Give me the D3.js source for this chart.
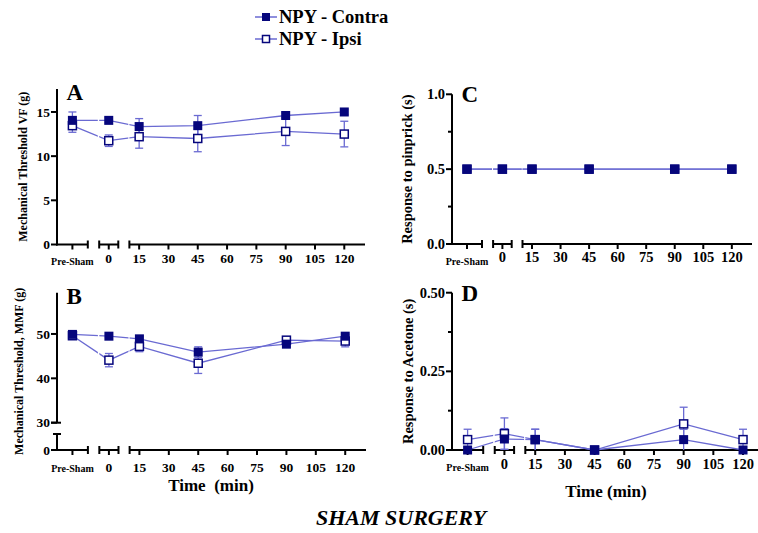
<!DOCTYPE html>
<html lang="en">
<head>
<meta charset="UTF-8">
<title>Sham surgery</title>
<script src="https://d3js.org/d3.v7.min.js"></script>
<style>
  body { margin: 0; background: #fff; }
  svg { font-family: "Liberation Serif", "Times New Roman", serif; font-weight: bold; }
</style>
</head>
<body>
<div id="chart"></div>
<script>
// time points; Pre-Sham is placed on its own axis segment (coded as -60)
var timePoints = [-60, 0, 15, 45, 90, 120];
var xTicks = [-60, 0, 15, 30, 45, 60, 75, 90, 105, 120];
var seriesNames = ["NPY - Contra", "NPY - Ipsi"];

// A: von Frey
var vfContra    = [14.05, 14.05, 13.35, 13.45, 14.6, 15.0];
var vfContraErr = [0.95, 0.3, 0.9, 1.15, 0.3, 0.3];
var vfIpsi      = [13.45, 11.75, 12.2, 12.0, 12.8, 12.5];
var vfIpsiErr   = [0.75, 0.65, 1.3, 1.5, 1.6, 1.45];
// B: MMF
var mmfContra    = [49.9, 49.5, 48.9, 45.9, 47.7, 49.5];
var mmfContraErr = [0.3, 0.3, 0.6, 1.2, 0.6, 0.4];
var mmfIpsi      = [49.6, 44.1, 47.2, 43.4, 48.6, 48.4];
var mmfIpsiErr   = [0.4, 1.5, 1.2, 2.3, 0.6, 1.3];
// C: pinprick
var pinContra    = [0.5, 0.5, 0.5, 0.5, 0.5, 0.5];
var pinContraErr = [0, 0, 0, 0, 0, 0];
var pinIpsi      = [0.5, 0.5, 0.5, 0.5, 0.5, 0.5];
var pinIpsiErr   = [0, 0, 0, 0, 0, 0];
// D: acetone
var aceContra    = [0, 0.035, 0.033, 0, 0.033, 0];
var aceContraErr = [0, 0.033, 0.033, 0, 0.033, 0];
var aceIpsi      = [0.033, 0.052, 0.033, 0, 0.083, 0.033];
var aceIpsiErr   = [0.033, 0.05, 0.033, 0, 0.053, 0.033];

var lineColor = "#6a6ad2";
var navy = "#06067c";

var svg = d3.select("#chart").append("svg")
    .attr("width", 758)
    .attr("height", 533);

// x segments as fractions of axis width
var segDomain = [-65, -55, -5, 5, 10, 130.6];
var segFrac   = [0, 0.1, 0.137, 0.199, 0.235, 1];

var panels = [
  {id: "A", left: 57, top: 89, bottom: 244.5, width: 308, yMax: 17.6, yTicks: [0, 5, 10, 15], minor: [],
   fmt: d3.format("d"), font: 13.5, title: "Mechanical Threshold VF (g)", titleSize: 12, titleX: 23,
   contra: vfContra, contraErr: vfContraErr, ipsi: vfIpsi, ipsiErr: vfIpsiErr, tickBase: 263, preBase: 265},
  {id: "B", left: 57, top: 292.7, bottom: 450, width: 309, yMax: 59.3, yTicks: [0, 30, 40, 50], minor: [],
   fmt: d3.format("d"), font: 13.5, title: "Mechanical Threshold, MMF (g)", titleSize: 12, titleX: 18.5,
   broken: true, contra: mmfContra, contraErr: mmfContraErr, ipsi: mmfIpsi, ipsiErr: mmfIpsiErr,
   tickBase: 472, preBase: 472, xTitle: "Time\u00a0\u00a0(min)", xTitleBase: 491},
  {id: "C", left: 452, top: 94.3, bottom: 244, width: 300, yMax: 1, yTicks: [0, 0.5, 1], minor: [0.25, 0.75],
   fmt: d3.format(".1f"), font: 14.5, title: "Response to pinprick (s)", titleSize: 14.5, titleX: 407,
   contra: pinContra, contraErr: pinContraErr, ipsi: pinIpsi, ipsiErr: pinIpsiErr, tickBase: 262, preBase: 265},
  {id: "D", left: 452, top: 292.7, bottom: 450, width: 312, yMax: 0.5, yTicks: [0, 0.25, 0.5], minor: [0.125, 0.375],
   fmt: d3.format(".2f"), font: 14.5, title: "Response to Acetone (s)", titleSize: 14.5, titleX: 408,
   contra: aceContra, contraErr: aceContraErr, ipsi: aceIpsi, ipsiErr: aceIpsiErr,
   tickBase: 469, preBase: 471, xTitle: "Time (min)", xTitleBase: 497}
];

panels.forEach(drawPanel);

function drawPanel(p) {
  var g = svg.append("g");
  var x = d3.scaleLinear()
      .domain(segDomain)
      .range(segFrac.map(function(f) { return p.left + f * p.width; }));

  var y;
  if (p.broken) {
    // lower stub 0..4, gap, then 30..top
    y = d3.scaleLinear().domain([0, 4, 30, p.yMax])
        .range([p.bottom, p.bottom - 16, p.bottom - 27.3, p.top]);
  } else {
    y = d3.scaleLinear().domain([0, p.yMax]).range([p.bottom, p.top]);
  }

  // ---- y axis
  var ya = g.append("g").attr("stroke", "#000").attr("stroke-width", 2);
  if (p.broken) {
    ya.append("line").attr("x1", p.left).attr("x2", p.left).attr("y1", y(0) + 1).attr("y2", y(4));
    ya.append("line").attr("x1", p.left - 4).attr("x2", p.left + 4).attr("y1", y(4)).attr("y2", y(4));
    ya.append("line").attr("x1", p.left).attr("x2", p.left).attr("y1", y(30)).attr("y2", p.top);
    ya.append("line").attr("x1", p.left - 6).attr("x2", p.left + 4).attr("y1", y(30)).attr("y2", y(30));
  } else {
    ya.append("line").attr("x1", p.left).attr("x2", p.left).attr("y1", p.bottom + 1).attr("y2", p.top);
  }
  p.yTicks.forEach(function(t) {
    ya.append("line").attr("x1", p.left - 6).attr("x2", p.left).attr("y1", y(t)).attr("y2", y(t));
    g.append("text")
      .attr("x", p.left - 7).attr("y", y(t))
      .attr("dy", "0.35em").attr("text-anchor", "end")
      .style("font-size", p.font + "px")
      .text(p.fmt(t));
  });
  p.minor.forEach(function(t) {
    ya.append("line").attr("x1", p.left - 4).attr("x2", p.left).attr("y1", y(t)).attr("y2", y(t));
  });

  // ---- x axis in three segments
  var xa = g.append("g").attr("stroke", "#000").attr("stroke-width", 2);
  var segs = [[p.left, x(-55)], [x(-5), x(5)], [x(10), x(130.6)]];
  segs.forEach(function(s, i) {
    xa.append("line").attr("x1", s[0] - (i === 0 ? 1 : 0)).attr("x2", s[1]).attr("y1", p.bottom).attr("y2", p.bottom);
    if (i > 0) xa.append("line").attr("x1", s[0]).attr("x2", s[0]).attr("y1", p.bottom - 4).attr("y2", p.bottom + 4);
    if (i < 2) xa.append("line").attr("x1", s[1]).attr("x2", s[1]).attr("y1", p.bottom - 4).attr("y2", p.bottom + 4);
  });
  xTicks.forEach(function(t) {
    xa.append("line").attr("x1", x(t)).attr("x2", x(t)).attr("y1", p.bottom).attr("y2", p.bottom + 5);
    if (t === -60) {
      g.append("text").attr("x", x(t)).attr("y", p.preBase)
        .attr("text-anchor", "middle").style("font-size", "10px").text("Pre-Sham");
    } else {
      g.append("text").attr("x", x(t)).attr("y", p.tickBase)
        .attr("text-anchor", "middle").style("font-size", p.font + "px").text(t);
    }
  });

  // ---- titles
  g.append("text")
    .attr("transform", "translate(" + p.titleX + "," + ((p.top + p.bottom) / 2) + ") rotate(-90)")
    .attr("text-anchor", "middle").attr("dy", "0.35em")
    .style("font-size", p.titleSize + "px")
    .text(p.title);
  g.append("text")
    .attr("x", p.left + 9.5).attr("y", p.top + (p.id === "A" || p.id === "B" ? 11 : 8))
    .style("font-size", "23px").text(p.id);
  if (p.xTitle) {
    g.append("text").attr("x", p.left + 154).attr("y", p.xTitleBase)
      .attr("text-anchor", "middle").style("font-size", "17px").text(p.xTitle);
  }

  // ---- clipped lines (broken across axis gaps)
  var clipId = "clip" + p.id;
  var cp = svg.append("clipPath").attr("id", clipId);
  segs.forEach(function(s) {
    cp.append("rect").attr("x", s[0]).attr("width", s[1] - s[0] + 10)
      .attr("y", p.top - 20).attr("height", p.bottom - p.top + 40);
  });

  var series = [
    {vals: p.ipsi, errs: p.ipsiErr, filled: false},
    {vals: p.contra, errs: p.contraErr, filled: true}
  ];
  var line = d3.line().x(function(d) { return x(d[0]); }).y(function(d) { return y(d[1]); });

  series.forEach(function(s) {
    var pts = timePoints.map(function(t, i) { return [t, s.vals[i], s.errs[i]]; });
    g.append("path").datum(pts)
      .attr("clip-path", "url(#" + clipId + ")")
      .attr("d", line).attr("fill", "none")
      .attr("stroke", lineColor).attr("stroke-width", 1.3);
    // error bars
    var eb = g.append("g").attr("stroke", lineColor).attr("stroke-width", 1.3);
    pts.forEach(function(d) {
      if (!d[2]) return;
      var lo = Math.max(0, d[1] - d[2]), hi = d[1] + d[2];
      var cx = x(d[0]);
      eb.append("line").attr("x1", cx).attr("x2", cx).attr("y1", y(lo)).attr("y2", y(hi));
      eb.append("line").attr("x1", cx - 4).attr("x2", cx + 4).attr("y1", y(hi)).attr("y2", y(hi));
      if (lo > 0) eb.append("line").attr("x1", cx - 4).attr("x2", cx + 4).attr("y1", y(lo)).attr("y2", y(lo));
    });
  });
  series.forEach(function(s) {
    timePoints.forEach(function(t, i) {
      var cx = x(t), cy = y(s.vals[i]);
      if (s.filled) {
        g.append("rect").attr("x", cx - 4.5).attr("y", cy - 4.5).attr("width", 9).attr("height", 9)
          .attr("fill", navy);
      } else {
        g.append("rect").attr("x", cx - 4).attr("y", cy - 4).attr("width", 8).attr("height", 8)
          .attr("fill", "#fff").attr("stroke", navy).attr("stroke-width", 1.5);
      }
    });
  });
}

// ---- legend
var legend = svg.append("g");
seriesNames.forEach(function(name, i) {
  var ly = 17 + i * 22;
  legend.append("line").attr("x1", 255).attr("x2", 277).attr("y1", ly).attr("y2", ly)
    .attr("stroke", lineColor).attr("stroke-width", 1.5);
  if (i === 0) {
    legend.append("rect").attr("x", 262).attr("y", ly - 4).attr("width", 8).attr("height", 8).attr("fill", navy);
  } else {
    legend.append("rect").attr("x", 262.5).attr("y", ly - 3.5).attr("width", 7).attr("height", 7)
      .attr("fill", "#fff").attr("stroke", navy).attr("stroke-width", 1.5);
  }
  legend.append("text").attr("x", 279).attr("y", ly).attr("dy", "0.35em")
    .style("font-size", "18.5px").text(name);
});

svg.append("text")
  .attr("x", 401).attr("y", 525)
  .attr("text-anchor", "middle")
  .style("font-size", "22px").style("font-style", "italic")
  .text("SHAM SURGERY");
</script>
</body>
</html>
